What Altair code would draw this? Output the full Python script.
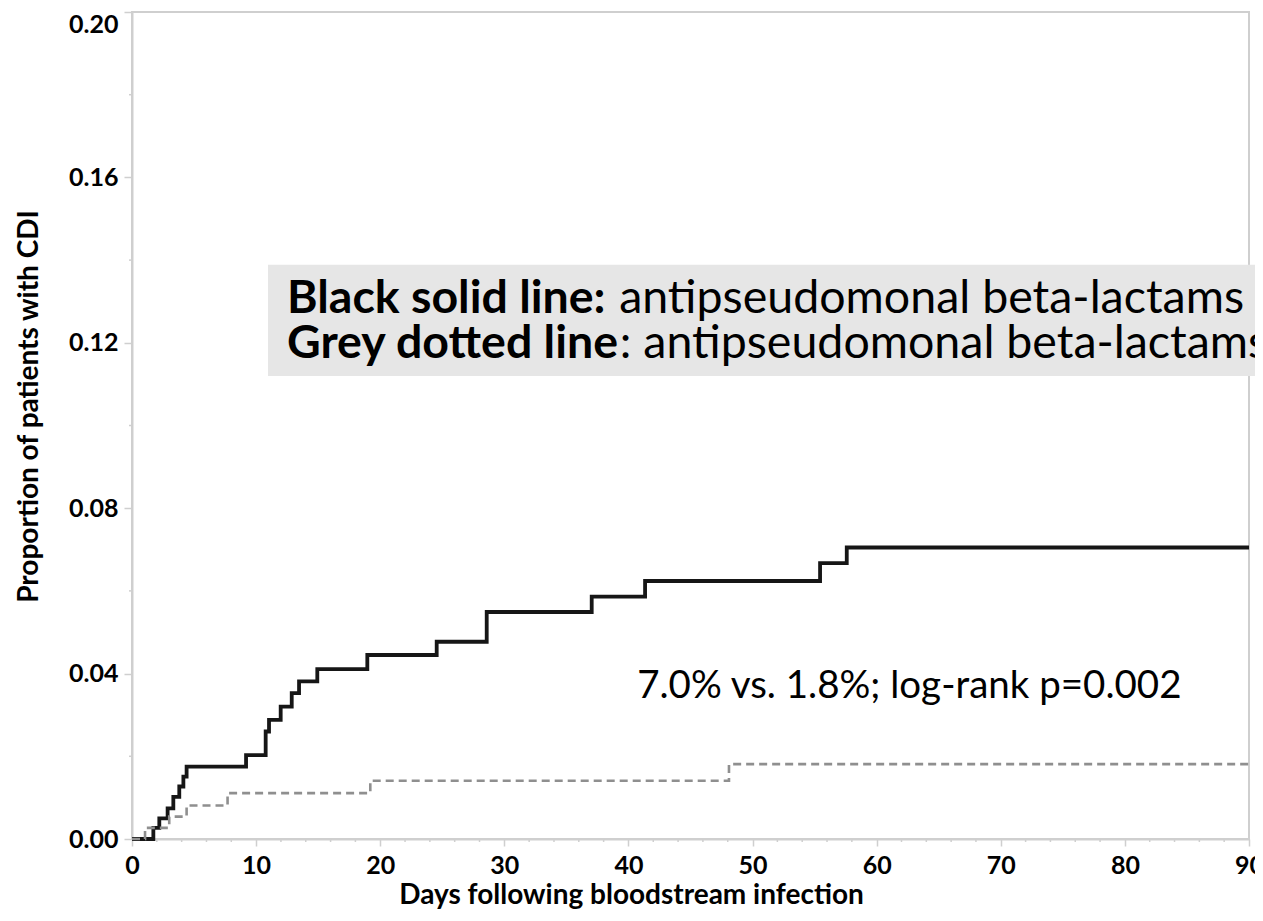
import altair as alt
import pandas as pd

# --- data ---
black_days = [0, 1.72, 2.2, 2.87, 3.33, 3.81, 4.14, 4.4, 9.19, 10.77, 11.04, 11.98,
              12.87, 13.46, 14.93, 18.96, 24.55, 28.58, 37.04, 41.34, 55.44, 57.59, 90]
black_prop = [0, 0.0027, 0.0050, 0.0074, 0.0102, 0.0127, 0.0151, 0.0175, 0.0203, 0.0260,
              0.0288, 0.0320, 0.0353, 0.0381, 0.0411, 0.0445, 0.0477, 0.0549, 0.0586,
              0.0624, 0.0667, 0.0705, 0.0705]
grey_days = [0, 1.05, 3.0, 4.4, 7.7, 19.2, 48.1, 90]
grey_prop = [0, 0.0027, 0.0054, 0.0081, 0.0111, 0.0141, 0.0181, 0.0181]

x_major = [0, 10, 20, 30, 40, 50, 60, 70, 80, 90]
x_minor = [2, 4, 6, 8, 12, 14, 16, 18, 22, 24, 26, 28, 32, 34, 36, 38, 42, 44, 46, 48,
           52, 54, 56, 58, 62, 64, 66, 68, 72, 74, 76, 78, 82, 84, 86, 88]
y_major = [0, 0.04, 0.08, 0.12, 0.16, 0.20]
y_minor = [0.02, 0.06, 0.10, 0.14, 0.18]

x_title = "Days following bloodstream infection"
y_title = "Proportion of patients with CDI"
bold_labels = ["Black solid line:", "Grey dotted line"]
plain_labels = ["antipseudomonal beta-lactams", ": antipseudomonal beta-lactams"]
stat_label = "7.0% vs. 1.8%; log-rank p=0.002"

W, H = 1117, 827
GREY = "#cfcfcf"
FONT = "Lato"

xs = alt.Scale(domain=[0, 90], nice=False, zero=False)
ys = alt.Scale(domain=[0, 0.2], nice=False, zero=False)

black_df = pd.DataFrame({"day": black_days, "prop": black_prop})
grey_df = pd.DataFrame({"day": grey_days, "prop": grey_prop})

x_axis = alt.Axis(values=x_major, format="d", title=x_title, tickSize=7, tickColor=GREY,
                  tickWidth=1.5, labelPadding=27, labelBaseline="alphabetic",
                  labelFlush=False, labelOverlap=False,
                  titleX=499, titleY=64, titleBaseline="alphabetic", titleAlign="center")
y_axis = alt.Axis(values=y_major, format=".2f", title=y_title, tickSize=8, tickColor=GREY,
                  tickWidth=1.5, labelPadding=6, labelFlush=False, labelOverlap=False,
                  labelBaseline={"condition": {"test": "datum.value >= 0.199", "value": "top"},
                                 "value": "middle"},
                  titleX=-95, titleY=394,
                  titleBaseline="alphabetic", titleAlign="center")


def X(field):
    return alt.X(field, type="quantitative", scale=xs, axis=x_axis)


def Y(field):
    return alt.Y(field, type="quantitative", scale=ys, axis=y_axis)


black = alt.Chart(black_df).mark_line(
    interpolate="step-after", color="#161616", strokeWidth=3.8
).encode(x=X("day"), y=Y("prop"))

grey = alt.Chart(grey_df).mark_line(
    interpolate="step-after", color="#8f8f8f", strokeWidth=2.6, strokeDash=[8, 5]
).encode(x=X("day"), y=Y("prop"))

one = pd.DataFrame({"k": [0]})

box = alt.Chart(one).mark_rect(color="#e6e6e6").encode(
    x=alt.X(datum=10.96, type="quantitative", scale=xs, axis=x_axis),
    x2=alt.X2(datum=93),
    y=alt.Y(datum=0.1389, type="quantitative", scale=ys, axis=y_axis),
    y2=alt.Y2(datum=0.1120),
)

bold_df = pd.DataFrame({"t": bold_labels, "day": [12.49, 12.49], "prop": [0.1272, 0.1163]})
plain_df = pd.DataFrame({"t": plain_labels, "day": [39.25, 39.3], "prop": [0.1272, 0.1163]})
stat_df = pd.DataFrame({"t": [stat_label], "day": [40.7], "prop": [0.0341]})

bold_txt = alt.Chart(bold_df).mark_text(
    align="left", baseline="alphabetic", font=FONT, fontSize=46.5, fontWeight="bold", color="#000000"
).encode(x=X("day"), y=Y("prop"), text="t:N")

plain_txt = alt.Chart(plain_df).mark_text(
    align="left", baseline="alphabetic", font=FONT, fontSize=46.5, fontWeight="normal", color="#000000"
).encode(x=X("day"), y=Y("prop"), text="t:N")

stat_txt = alt.Chart(stat_df).mark_text(
    align="left", baseline="alphabetic", font=FONT, fontSize=38.5, fontWeight="normal", color="#000000"
).encode(x=X("day"), y=Y("prop"), text="t:N")

xminor = alt.Chart(pd.DataFrame({"v": x_minor})).mark_rule(color=GREY, strokeWidth=1.5).encode(
    x=X("v"), y=alt.value(H), y2=alt.value(H + 3))
yminor = alt.Chart(pd.DataFrame({"v": y_minor})).mark_rule(color=GREY, strokeWidth=1.5).encode(
    y=Y("v"), x=alt.value(0), x2=alt.value(-3))

chart = alt.layer(
    black, grey, box, bold_txt, plain_txt, stat_txt, xminor, yminor
).properties(
    width=W, height=H,
    autosize=alt.AutoSizeParams(type="none"),
    padding={"left": 124, "top": 4, "right": 6, "bottom": 74},
).configure_view(
    stroke=GREY, strokeWidth=2
).configure_axis(
    grid=False, domainColor=GREY, domainWidth=2,
    labelFont=FONT, labelFontSize=25, labelFontWeight="bold", labelColor="#000000",
    titleFont=FONT, titleFontSize=28, titleFontWeight="bold", titleColor="#000000",
)

chart.save("out.html", embed_options={"renderer": "svg", "actions": False})
